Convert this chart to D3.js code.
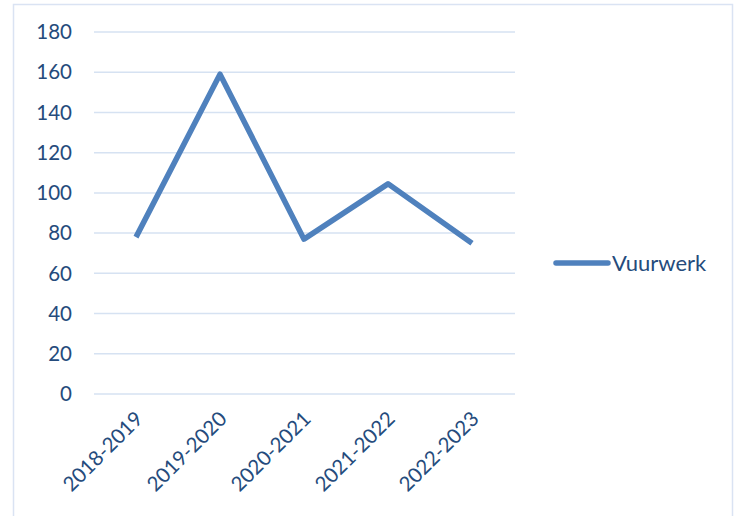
<!DOCTYPE html>
<meta charset="utf-8">
<style>
	body { margin: 0; background: #fff; }
	text { font-family: Lato, "Open Sans", sans-serif; fill: #254B7C; }
	.grid line { stroke: #D6E2F2; stroke-width: 1.5px; }
	.line { fill: none; stroke: #4F81BD; stroke-width: 5.5px; stroke-linejoin: round; }
</style>
<svg width="744" height="516"></svg>
<script src="https://cdn.jsdelivr.net/npm/d3@7"></script>
<script>

var seasons = ["2018-2019", "2019-2020", "2020-2021", "2021-2022", "2022-2023"];
var vuurwerk = [78, 159, 77, 104.5, 75];
var yTicks = [0, 20, 40, 60, 80, 100, 120, 140, 160, 180];
var seriesName = "Vuurwerk";

var svg = d3.select("svg");

// chart frame
svg.append("rect")
	.attr("x", 13.5).attr("y", 4.5)
	.attr("width", 719).attr("height", 520)
	.attr("fill", "none")
	.attr("stroke", "#DAE3F3")
	.attr("stroke-width", 1.5);

var x = d3.scalePoint().domain(seasons).range([94, 514]).padding(0.5),
	y = d3.scaleLinear().domain([0, 180]).range([394, 32]);

// gridlines
svg.append("g").attr("class", "grid")
	.selectAll("line").data(yTicks).enter().append("line")
	.attr("x1", 94).attr("x2", 515)
	.attr("y1", function(d) { return y(d); })
	.attr("y2", function(d) { return y(d); });

// y labels
svg.append("g").selectAll("text").data(yTicks).enter().append("text")
	.attr("x", 72)
	.attr("y", function(d) { return y(d); })
	.attr("dy", "0.35em")
	.attr("text-anchor", "end")
	.style("font-size", "20.5px")
	.text(function(d) { return d; });

// x labels
svg.append("g").selectAll("text").data(seasons).enter().append("text")
	.attr("transform", function(d) { return "translate(" + (x(d) - 2) + ",410) rotate(-45)"; })
	.attr("text-anchor", "end")
	.attr("dy", "0.7em")
	.style("font-size", "20.5px")
	.text(function(d) { return d; });

var line = d3.line()
	.x(function(d, i) { return x(seasons[i]); })
	.y(function(d) { return y(d); });

svg.append("path")
	.datum(vuurwerk)
	.attr("class", "line")
	.attr("d", line);

// legend
svg.append("line")
	.attr("x1", 556).attr("x2", 608)
	.attr("y1", 263).attr("y2", 263)
	.attr("stroke", "#4F81BD")
	.attr("stroke-width", 5.5)
	.attr("stroke-linecap", "round");

svg.append("text")
	.attr("x", 612).attr("y", 263)
	.attr("dy", "0.35em")
	.style("font-size", "22px")
	.text(seriesName);

</script>
